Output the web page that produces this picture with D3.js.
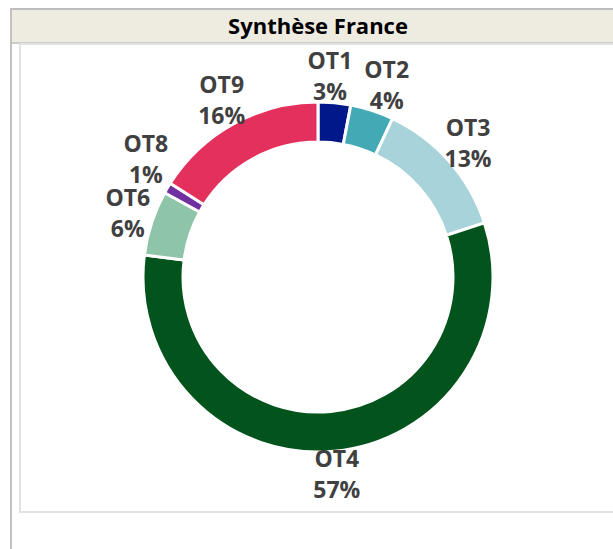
<!DOCTYPE html>
<html>
<head>
<meta charset="utf-8">
<script src="https://cdn.jsdelivr.net/npm/d3@7"></script>
<style>
  body { margin: 0; background: #fff; }
  svg { display: block; }
</style>
</head>
<body>
<div id="vis"></div>
<script>
var w = 613, h = 549; //size of the page

//data shown as slices of the donut
var categories = ["OT1", "OT2", "OT3", "OT4", "OT6", "OT8", "OT9"];
var values = [3, 4, 13, 57, 6, 1, 16];
var labels = ["3%", "4%", "13%", "57%", "6%", "1%", "16%"];
var colors = ["#00188a", "#42a9b5", "#a9d3db", "#03531c", "#8ec4a8", "#7030a0", "#e3305c"];
var title = "Synthèse France";

var font = "'Open Sans', Lato, sans-serif";

var svg = d3.select("#vis")
            .append("svg")
            .attr("width", w)
            .attr("height", h);

//frame lines and header band
svg.append("rect").attr("x", 12).attr("y", 10).attr("width", w).attr("height", 32).attr("fill", "#eeebe0");
svg.append("line").attr("x1", 10).attr("x2", w).attr("y1", 9).attr("y2", 9)
   .attr("stroke", "#bcbcbc").attr("stroke-width", 2);
svg.append("line").attr("x1", 11).attr("x2", 11).attr("y1", 8).attr("y2", h)
   .attr("stroke", "#c2c2c2").attr("stroke-width", 2);
svg.append("line").attr("x1", 12).attr("x2", w).attr("y1", 43).attr("y2", 43)
   .attr("stroke", "#cacaca").attr("stroke-width", 2);
//chart area box
svg.append("rect").attr("x", 20).attr("y", 44).attr("width", w).attr("height", 468)
   .attr("fill", "#fff").attr("stroke", "#e2e2e2").attr("stroke-width", 2);

svg.append("text")
   .attr("x", 318).attr("y", 34)
   .attr("text-anchor", "middle")
   .style("font-family", font)
   .style("font-weight", "bold")
   .style("font-size", "22px")
   .attr("fill", "#000")
   .text(title);

var data = categories.map(function(c, i){
    return {name: c, value: values[i], label: labels[i], color: colors[i]};
});

var cx = 318, cy = 277, outerR = 175, innerR = 135, labelR = 200;

var pie = d3.pie()
            .value(function(d){ return d.value; })
            .sort(null);

var arc = d3.arc().innerRadius(innerR).outerRadius(outerR);
var labelArc = d3.arc().innerRadius(labelR).outerRadius(labelR);

var g = svg.append("g").attr("transform", "translate(" + cx + "," + cy + ")");

g.selectAll("path")
    .data(pie(data))
    .enter()
    .append("path")
    .attr("d", arc)
    .attr("fill", function(d){ return d.data.color; })
    .attr("stroke", "#fff")
    .attr("stroke-width", 3);

//two line labels : name then percent
var lbl = g.selectAll("text.lbl")
    .data(pie(data))
    .enter()
    .append("text")
    .attr("class", "lbl")
    .attr("text-anchor", "middle")
    .style("font-family", font)
    .style("font-weight", "bold")
    .style("font-size", "23px")
    .attr("fill", "#404040");

lbl.append("tspan").attr("x", 0).attr("y", -9).text(function(d){ return d.data.name; });
lbl.append("tspan").attr("x", 0).attr("y", 22).text(function(d){ return d.data.label; });

//label boxes placed at mid angle, then pushed apart when two collide
var boxes = [];
lbl.each(function(d){
    var c = labelArc.centroid(d);
    var bw = this.getBBox().width;
    boxes.push({x: c[0], y: c[1], w: bw, top: 26, bot: 22, v: d.data.value});
});
var gapX = 12, gapY = 6;
for (var i = 0; i < boxes.length; i++) {
    for (var j = i + 1; j < boxes.length; j++) {
        var a = boxes[i], b = boxes[j];
        var ox = (a.w + b.w) / 2 - Math.abs(a.x - b.x) + gapX;
        var oy = (a.y < b.y) ? (a.y + a.bot) - (b.y - b.top) : (b.y + b.bot) - (a.y - a.top);
        if (ox > 0 && oy > 0) {
            if (ox < oy) {
                //side by side : both move half way
                var l = a.x < b.x ? a : b, r = l === a ? b : a;
                l.x -= ox / 2;
                r.x += ox / 2;
            } else {
                //stacked : only the smaller slice's label moves
                var s = a.v < b.v ? a : b, o = s === a ? b : a;
                s.y += (s.y < o.y ? -1 : 1) * (oy + gapY);
            }
        }
    }
}
lbl.attr("transform", function(d, i){
    return "translate(" + boxes[i].x + "," + boxes[i].y + ")";
});
</script>
</body>
</html>
